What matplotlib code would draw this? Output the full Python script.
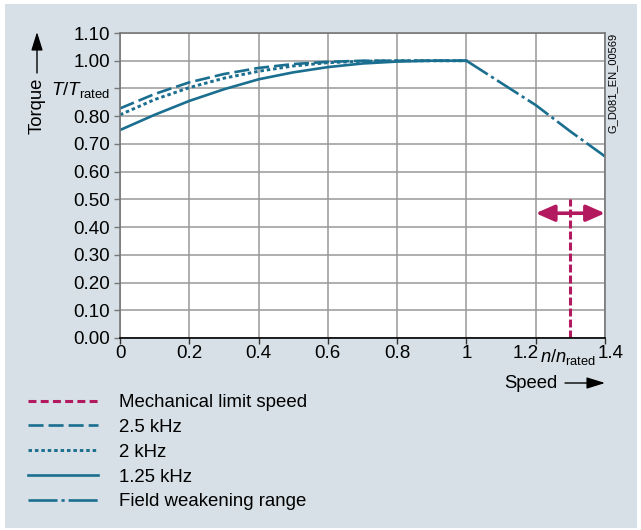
# -*- coding:utf-8 -*-

import numpy as np
import matplotlib
matplotlib.use('Agg')
import matplotlib.pyplot as plt
import matplotlib.transforms as mtransforms
from matplotlib.lines import Line2D
from matplotlib.patches import Rectangle

plt.rcParams['font.family'] = ['Liberation Sans', 'DejaVu Sans']
plt.rcParams['mathtext.fontset'] = 'custom'
plt.rcParams['mathtext.rm'] = 'Liberation Sans'
plt.rcParams['mathtext.it'] = 'Liberation Sans:italic'

##################################### data #####################################

speed = [0, 0.1, 0.2, 0.3, 0.4, 0.5, 0.6, 0.7, 0.8, 0.9, 1.0]
torque_2500 = [0.828, 0.88, 0.922, 0.952, 0.974, 0.988, 0.996, 1.0, 1.0, 1.0, 1.0]
torque_2000 = [0.805, 0.86, 0.903, 0.937, 0.962, 0.981, 0.993, 0.998, 1.0, 1.0, 1.0]
torque_1250 = [0.75, 0.805, 0.855, 0.897, 0.933, 0.958, 0.977, 0.990, 0.997, 1.0, 1.0]

fw_speed = [1.0, 1.1, 1.2, 1.3, 1.4]
fw_torque = [1.0, 0.92, 0.84, 0.745, 0.655]

limit_speed = 1.3
limit_top = 0.5
arrow_y = 0.45
arrow_span = [1.2, 1.4]

xticks = [0, 0.2, 0.4, 0.6, 0.8, 1.0, 1.2, 1.4]
xlabels = ['0', '0.2', '0.4', '0.6', '0.8', '1', '1.2', '1.4']
yticks = [0.0, 0.1, 0.2, 0.3, 0.4, 0.5, 0.6, 0.7, 0.8, 0.9, 1.0, 1.1]
ylabels = ['0.00', '0.10', '0.20', '0.30', '0.40', '0.50', '0.60', '0.70', '0.80', '', '1.00', '1.10']

labels = ['Mechanical limit speed', '2.5 kHz', '2 kHz', '1.25 kHz', 'Field weakening range']

################################################################################

blue = '#1a6e8f'
red = '#b3195e'
bg = '#d6e0e6'
W, H = 641, 530
fs = 13.5

fig = plt.figure(figsize=(6.41, 5.30), dpi=100)
fig.patch.set_facecolor('white')
fig.patches.append(Rectangle((5 / W, 2 / H), 632 / W, 524 / H, transform=fig.transFigure,
                             facecolor=bg, edgecolor='none', zorder=-10))

ax = fig.add_axes([120 / W, (H - 338) / H, 485 / W, 305 / H])
ax.set_facecolor('white')

# curves
ax.plot(speed, torque_2500, color=blue, lw=1.9, dashes=(5.7, 1.9), solid_capstyle='butt')
ax.plot(speed, torque_2000, color=blue, lw=2.1, dashes=(1.2, 1.0), dash_capstyle='butt')
ax.plot(speed, torque_1250, color=blue, lw=1.9)
ax.plot(fw_speed, fw_torque, color=blue, lw=1.9, dashes=(9.6, 1.5, 1.2, 1.5))

ax.plot([limit_speed, limit_speed], [0, limit_top], color=red, lw=2.2, dashes=(2.6, 1.0))
ax.annotate('', xy=(arrow_span[1], arrow_y), xytext=(arrow_span[0], arrow_y),
            arrowprops=dict(arrowstyle='<|-|>,head_length=0.75,head_width=0.33',
                            color=red, lw=2.6, mutation_scale=15, shrinkA=0, shrinkB=0))

ax.set_xlim(0, 1.4)
ax.set_ylim(0, 1.1)
ax.set_xticks(xticks)
ax.set_xticklabels(xlabels)
ax.set_yticks(yticks)
ax.set_yticklabels(ylabels)
ax.tick_params(axis='x', length=4.3, width=1, color='#333333', pad=1, labelsize=fs)
ax.tick_params(axis='y', length=4.3, width=1, color='#777777', pad=3, labelsize=fs)
ax.grid(True, color='#999999', lw=1.1)
ax.set_axisbelow(True)
for s in ['top', 'right', 'left']:
    ax.spines[s].set_color('#777777')
    ax.spines[s].set_linewidth(1.2)
ax.spines['bottom'].set_color('black')
ax.spines['bottom'].set_linewidth(1.2)

# "1.2" and "1.4" pushed aside so n/n_rated fits between them
xl = ax.get_xticklabels()
xl[6].set_ha('right')
xl[6].set_transform(xl[6].get_transform() + mtransforms.ScaledTranslation(3 / 100, 0, fig.dpi_scale_trans))
xl[7].set_ha('left')
xl[7].set_transform(xl[7].get_transform() + mtransforms.ScaledTranslation(-7 / 100, 0, fig.dpi_scale_trans))

# axis texts
fig.text(540 / W, (H - 357) / H, r'$n/n_{\mathrm{rated}}$', fontsize=13.2, ha='left', va='center')
fig.text(110 / W, (H - 90) / H, r'$T/T_{\mathrm{rated}}$', fontsize=fs, ha='right', va='center')
fig.text(37 / W, (H - 106) / H, 'Torque', fontsize=13.3, rotation=90, ha='center', va='center')
fig.text(557 / W, (H - 383) / H, 'Speed', fontsize=13.3, ha='right', va='center')
fig.text(613 / W, (H - 83) / H, 'G_D081_EN_00569', fontsize=8, rotation=90, ha='center', va='center')

ax.annotate('', xy=(37, H - 32), xytext=(37, H - 73), xycoords='figure pixels',
            textcoords='figure pixels',
            arrowprops=dict(arrowstyle='-|>,head_length=0.8,head_width=0.25',
                            color='black', lw=1, mutation_scale=14, shrinkA=0, shrinkB=0))
ax.annotate('', xy=(605, H - 383), xytext=(565, H - 383), xycoords='figure pixels',
            textcoords='figure pixels',
            arrowprops=dict(arrowstyle='-|>,head_length=0.8,head_width=0.25',
                            color='black', lw=1, mutation_scale=14, shrinkA=0, shrinkB=0))

# legend
handles = [
    Line2D([], [], color=red, lw=2.2, dashes=(2.6, 1.4)),
    Line2D([], [], color=blue, lw=1.9, dashes=(5.7, 1.9)),
    Line2D([], [], color=blue, lw=2.1, dashes=(1.2, 1.0), dash_capstyle='butt'),
    Line2D([], [], color=blue, lw=1.9),
    Line2D([], [], color=blue, lw=1.9, dashes=(11.0, 1.5, 1.2, 1.5)),
]
fig.legend(handles, labels, loc='upper left', bbox_to_anchor=(28 / W, (H - 394) / H),
           frameon=False, fontsize=13.4, handlelength=3.75, handletextpad=1.15,
           labelspacing=0.42, borderpad=0, borderaxespad=0)

fig.savefig('out.png', dpi=100)
